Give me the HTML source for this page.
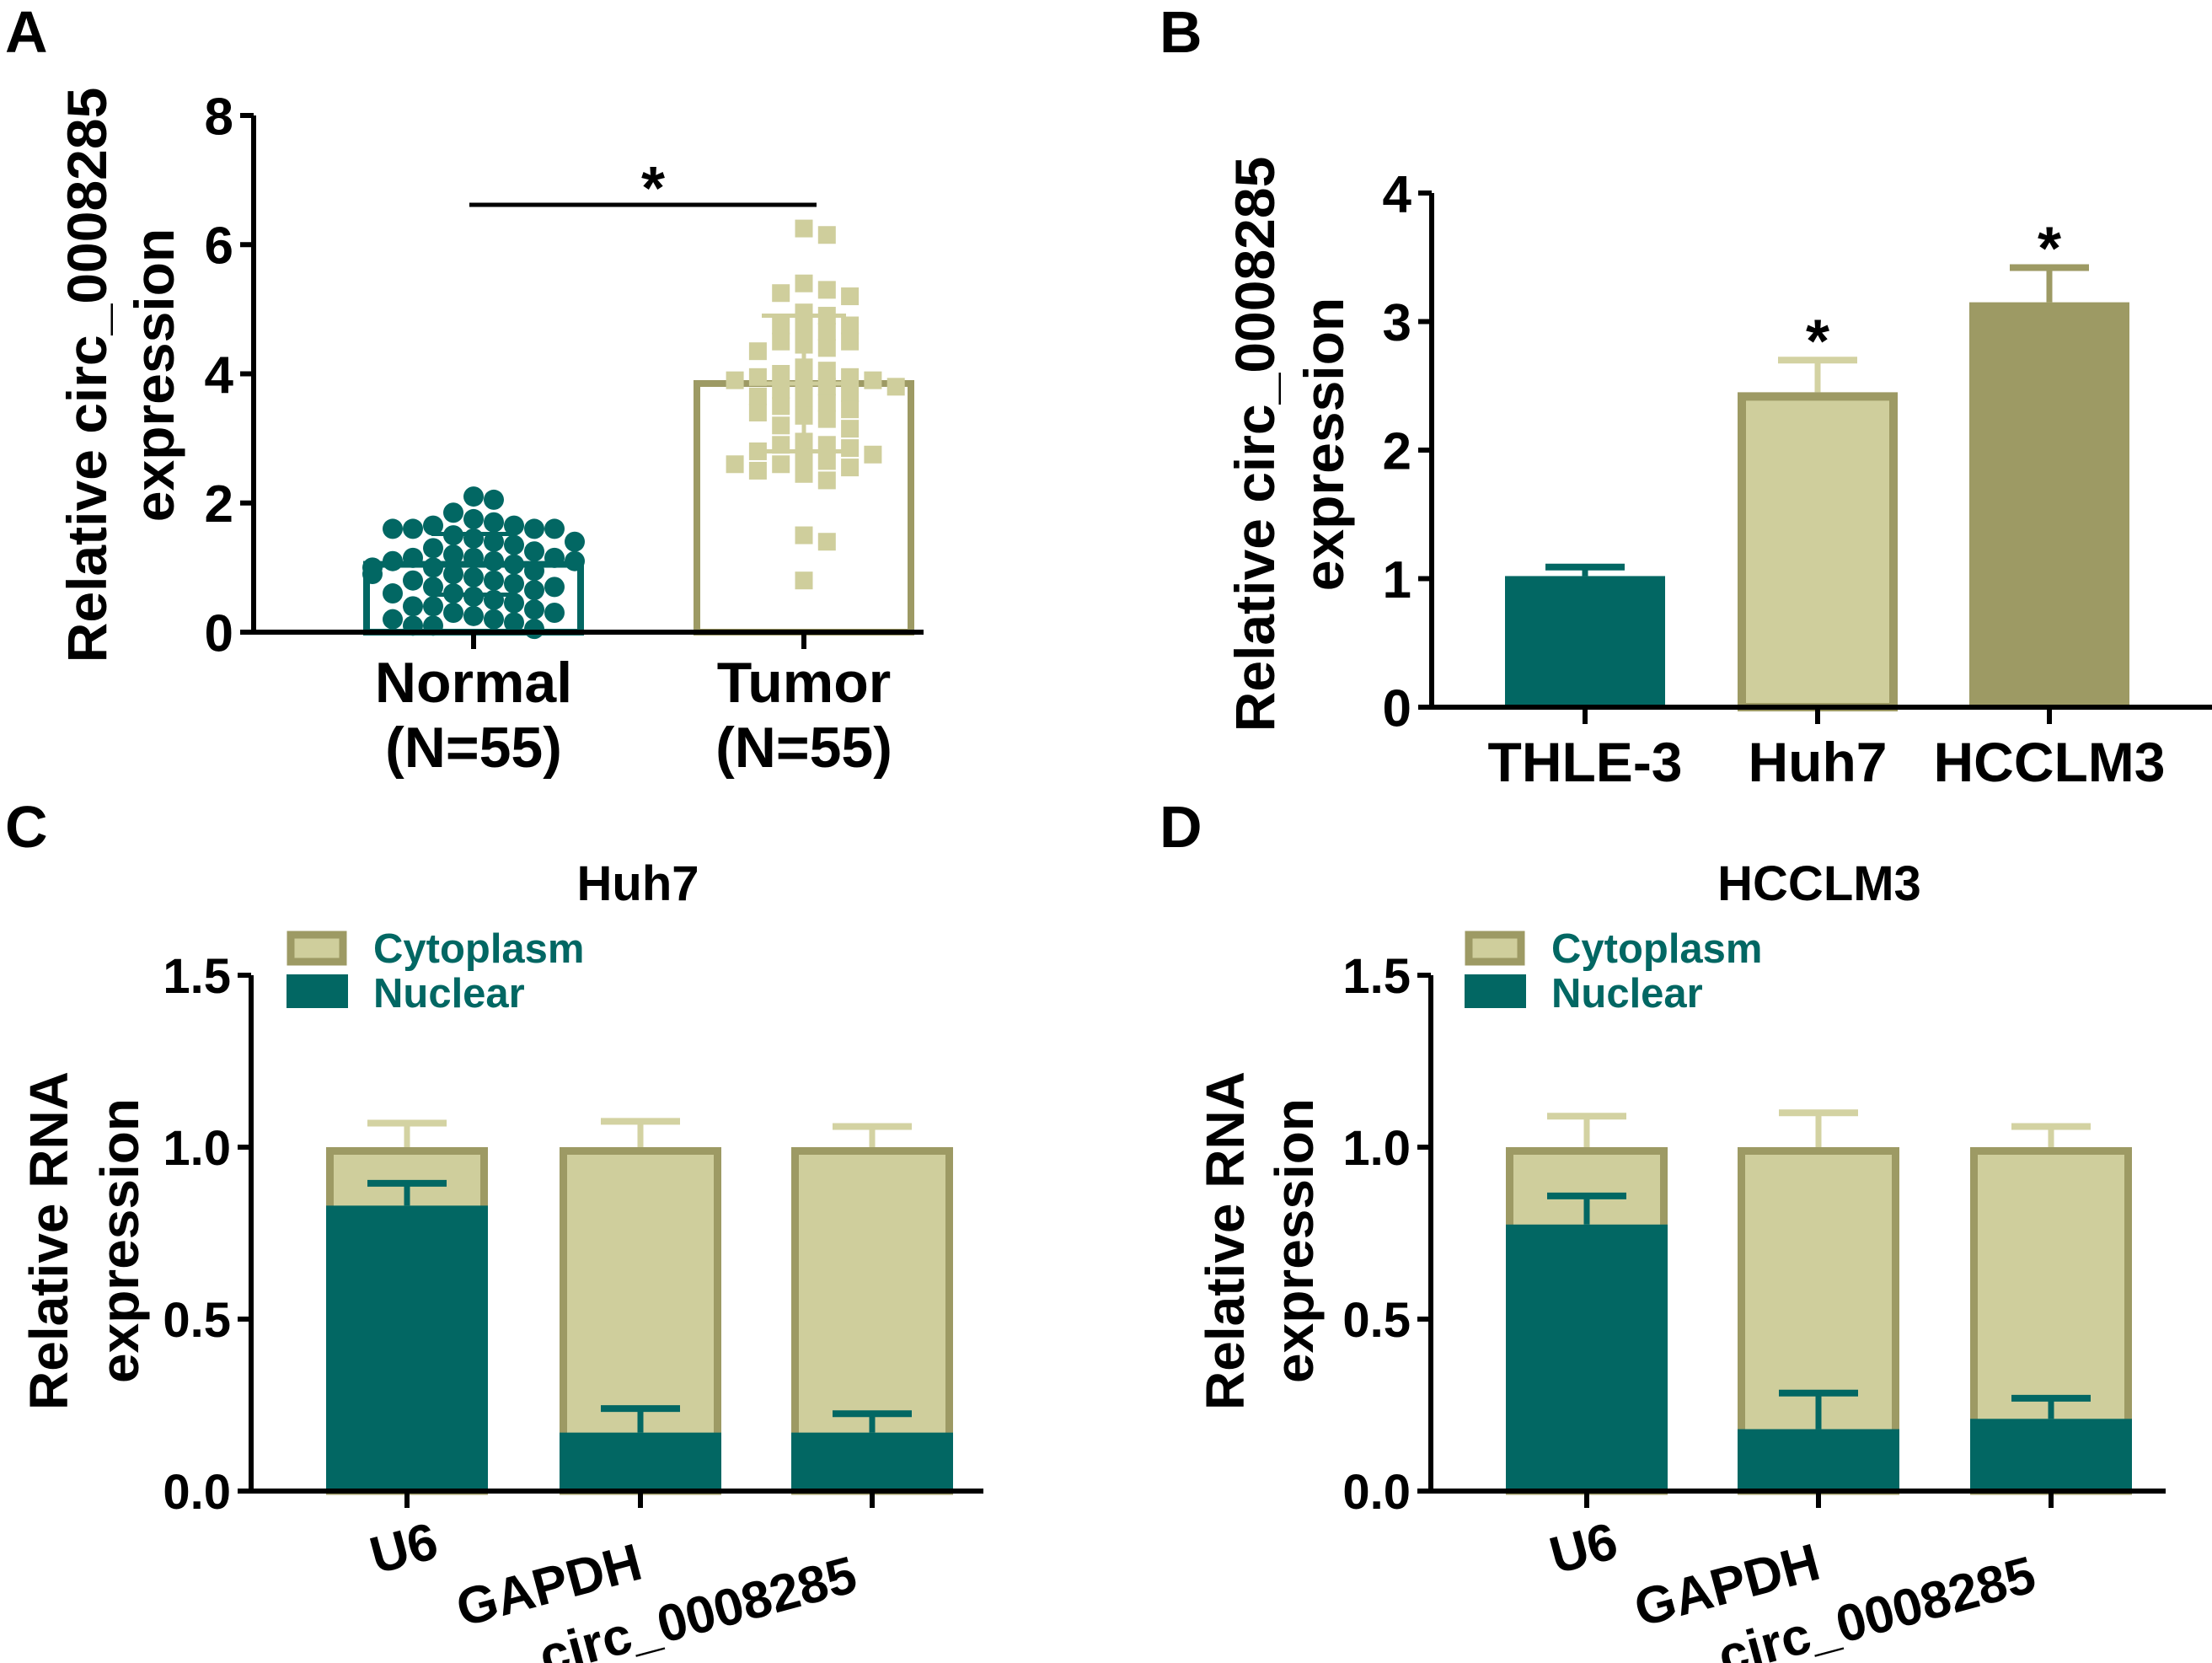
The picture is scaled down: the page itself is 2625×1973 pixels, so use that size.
<!DOCTYPE html>
<html><head><meta charset="utf-8">
<style>
html,body{margin:0;padding:0;background:#fff;}
svg{display:block;}
text{font-family:"Liberation Sans",Arial,sans-serif;font-weight:bold;}
.n{font-family:"Liberation Sans Narrow","Liberation Sans",Arial,sans-serif;}
</style></head>
<body>
<svg id="fig" width="2625" height="1973" viewBox="0 0 2625 1973" xmlns="http://www.w3.org/2000/svg">
<g>
<text x="6" y="62" font-size="70">A</text>
<text x="1376" y="62" font-size="70">B</text>
<text x="6" y="1005" font-size="70">C</text>
<text x="1376" y="1005" font-size="70">D</text>
</g>
<g id="pa"></g>
<g id="pb"></g>
<g id="pc"></g>
<g id="pd"></g>
</svg>
<script>
// ---------- DATA ----------
const aCategories = ["Normal", "Tumor"];
const aSubLabels = ["(N=55)", "(N=55)"];
const aMeans = [1.05, 3.85];
const aSD = [0.47, 1.05];
const aTicks = [0, 2, 4, 6, 8];
const normalValues = [2.1,2.05,1.85,1.75,1.7,1.65,1.65,1.6,1.6,1.6,1.6,1.5,1.45,1.4,1.4,1.35,1.3,1.25,1.2,1.15,1.15,1.15,1.1,1.1,1.1,1.05,1.0,1.0,0.95,0.9,0.9,0.85,0.8,0.8,0.75,0.7,0.7,0.65,0.6,0.6,0.55,0.5,0.45,0.4,0.4,0.35,0.3,0.3,0.25,0.2,0.2,0.15,0.1,0.1,0.05];
const tumorValues = [6.25,6.15,5.4,5.3,5.25,5.2,4.95,4.9,4.75,4.75,4.7,4.65,4.5,4.5,4.45,4.4,4.35,4.1,4.05,4.0,3.95,3.95,3.9,3.9,3.85,3.8,3.8,3.75,3.7,3.65,3.6,3.55,3.5,3.45,3.4,3.35,3.3,3.2,3.15,2.95,2.9,2.9,2.85,2.8,2.75,2.7,2.65,2.6,2.55,2.5,2.45,2.35,2.6,1.5,1.4,0.8];

const bCategories = ["THLE-3", "Huh7", "HCCLM3"];
const bValues = [1.02, 2.45, 3.15];
const bErrors = [0.07, 0.25, 0.27];
const bTicks = [0, 1, 2, 3, 4];

const cdCategories = ["U6", "GAPDH", "circ_0008285"];
const cdTicks = [0.0, 0.5, 1.0, 1.5];
const cNuclear = [0.83, 0.17, 0.17];
const cNuclearErr = [0.065, 0.07, 0.055];
const cTotal = [1.0, 1.0, 1.0];
const cTotalErr = [0.07, 0.075, 0.06];
const dNuclear = [0.775, 0.18, 0.21];
const dNuclearErr = [0.083, 0.105, 0.06];
const dTotal = [1.0, 1.0, 1.0];
const dTotalErr = [0.09, 0.10, 0.06];

// ---------- HELPERS ----------
const NS = "http://www.w3.org/2000/svg";
const TEAL = "#026763", LIGHT = "#cfce9c", OLIVE = "#9d9a64", ERRL = "#d3d2a2";
function mk(parent, tag, attrs, txt){
  const e = document.createElementNS(NS, tag);
  for (const k in attrs) e.setAttribute(k, attrs[k]);
  if (txt !== undefined) e.textContent = txt;
  parent.appendChild(e);
  return e;
}
function lin(d0,d1,r0,r1){ return v => r0 + (v-d0)*(r1-r0)/(d1-d0); }

function axes(g, x0, x1, yTop, yBot, ticks, yS, fmt, fs){
  let e = mk(g,'line',{x1:x0,y1:yTop,x2:x0,y2:yBot+3,stroke:'#000','stroke-width':6});
   
  e = mk(g,'line',{x1:x0-3,y1:yBot,x2:x1,y2:yBot,stroke:'#000','stroke-width':6});
   
  ticks.forEach(t=>{
    const y = yS(t);
    let l = mk(g,'line',{x1:x0-16,y1:y,x2:x0,y2:y,stroke:'#000','stroke-width':6});
     
    let tx = mk(g,'text',{x:x0-24,y:y+fs*0.36,'font-size':fs,'text-anchor':'end',class:'n'},fmt(t));
     
  });
}
function xTick(g,x,y){
  const l = mk(g,'line',{x1:x,y1:y,x2:x,y2:y+20,stroke:'#000','stroke-width':6});
   
}
function yTitle(g, cx1, cx2, cy, l1, l2, fs){
  let t = mk(g,'text',{x:0,y:0,'font-size':fs,'text-anchor':'middle',transform:`translate(${cx1},${cy}) rotate(-90)`},l1);
   
  t = mk(g,'text',{x:0,y:0,'font-size':fs,'text-anchor':'middle',transform:`translate(${cx2},${cy}) rotate(-90)`},l2);
   
}
function errBar(g, x, yFrom, yTo, color, half){
  let l = mk(g,'line',{x1:x,y1:yFrom,x2:x,y2:yTo,stroke:color,'stroke-width':7});
   
  l = mk(g,'line',{x1:x-half,y1:yTo,x2:x+half,y2:yTo,stroke:color,'stroke-width':8});
   
}

// ---------- PANEL A ----------
(function(){
  const g = document.getElementById('pa');
  const yS = lin(0,8,750,137);
  const centers = [562, 954], bw = 262;
  yTitle(g, 126, 206, 445, "Relative circ_0008285", "expression", 66);
  aMeans.forEach((m,i)=>{
    const col = i===0 ? TEAL : OLIVE;
    const r = mk(g,'rect',{x:centers[i]-bw/2+4,y:yS(m),width:bw-8,height:750-yS(m),fill:'none',stroke:col,'stroke-width':8});
     
  });
  function swarm(vals, cx, cls, d, half, step){
    const placed = [];
    vals.forEach(v=>{
      const y = yS(v);
      let best = cx;
      for (let k=0;k<60;k++){
        const off = (k===0?0:(k%2? 1:-1)*Math.ceil(k/2)*d*step);
        if (Math.abs(off) > half) break;
        const x = cx+off;
        if (placed.every(p=>Math.hypot(p[0]-x,p[1]-y) >= d*0.9)) { best = x; break; }
        best = x;
      }
      placed.push([best,y]);
      let e;
      if (cls==='c'){ e = mk(g,'circle',{cx:best,cy:y,r:d/2,fill:TEAL});  }
      else { e = mk(g,'rect',{x:best-d/2,y:y-d/2,width:d,height:d,fill:LIGHT});  }
      
    });
  }
  swarm(normalValues, centers[0], 'c', 24, 128, 1.0);
  swarm(tumorValues, centers[1], 's', 21, 128, 1.3);
  aMeans.forEach((m,i)=>{
    const x = centers[i];
    let e = mk(g,'line',{x1:x,y1:yS(m-aSD[i]),x2:x,y2:yS(m+aSD[i]),stroke:i===0?TEAL:LIGHT,'stroke-width':5});
     
    [m-aSD[i], m, m+aSD[i]].forEach(v=>{
      const l = mk(g,'line',{x1:x-50,y1:yS(v),x2:x+50,y2:yS(v),stroke:i===0?TEAL:LIGHT,'stroke-width':5});
       
    });
  });
  axes(g, 301, 1096, 137, 750, aTicks, yS, t=>String(t), 62);
  aCategories.forEach((c,i)=>{
    xTick(g, centers[i], 750);
    let t = mk(g,'text',{x:centers[i],y:833,'font-size':68,'text-anchor':'middle',class:'n'},c);
     
    t = mk(g,'text',{x:centers[i],y:910,'font-size':68,'text-anchor':'middle',class:'n'},aSubLabels[i]);
     
  });
  let s = mk(g,'line',{x1:557,y1:243,x2:969,y2:243,stroke:'#000','stroke-width':5});
   
  s = mk(g,'text',{x:775,y:248,'font-size':72,'text-anchor':'middle'},'*');
   
})();

// ---------- PANEL B ----------
(function(){
  const g = document.getElementById('pb');
  const yS = lin(0,4,839,229);
  const centers = [1881, 2157, 2432], bw = 190;
  yTitle(g, 1512, 1594, 527, "Relative circ_0008285", "expression", 66);
  bValues.forEach((v,i)=>{
    const x = centers[i];
    const top = yS(v);
    const errCol = i===0 ? TEAL : (i===1 ? ERRL : OLIVE);
    errBar(g, x, top, yS(v+bErrors[i]), errCol, 47);
    let r;
    if (i===1) r = mk(g,'rect',{x:x-bw/2+5,y:top+5,width:bw-10,height:839-top-5,fill:LIGHT,stroke:OLIVE,'stroke-width':10});
    else r = mk(g,'rect',{x:x-bw/2,y:top,width:bw,height:839-top,fill:i===0?TEAL:OLIVE});
     
    if (i>0){
      const s = mk(g,'text',{x:x,y:yS(v+bErrors[i])+2,'font-size':72,'text-anchor':'middle'},'*');
       
    }
  });
  axes(g, 1699, 2625, 229, 839, bTicks, yS, t=>String(t), 62);
  bCategories.forEach((c,i)=>{
    xTick(g, centers[i], 839);
    const t = mk(g,'text',{x:centers[i],y:927,'font-size':66,'text-anchor':'middle',class:'n'},c);
     
  });
})();

// ---------- PANELS C & D ----------
function stacked(id, title, titleX, axX, axEnd, centers, nuc, nucErr, tot, totErr, legX, titleXs){
  const g = document.getElementById(id);
  const yS = lin(0,1.5,1769,1157);
  const bw = 192;
  let t = mk(g,'text',{x:titleX,y:1068,'font-size':58,'text-anchor':'middle',class:'n'},title);
   
  yTitle(g, titleXs[0], titleXs[1], 1472, "Relative RNA", "expression", 64);
  let r = mk(g,'rect',{x:legX+5,y:1109,width:62,height:32,fill:LIGHT,stroke:OLIVE,'stroke-width':9});
   
  r = mk(g,'rect',{x:legX,y:1156,width:73,height:40,fill:TEAL});
   
  t = mk(g,'text',{x:legX+103,y:1142,'font-size':49,fill:TEAL,class:'n'},'Cytoplasm');
   
  t = mk(g,'text',{x:legX+103,y:1195,'font-size':49,fill:TEAL,class:'n'},'Nuclear');
   
  tot.forEach((v,i)=>{
    const x = centers[i];
    errBar(g, x, yS(v), yS(v+totErr[i]), ERRL, 47);
    let b = mk(g,'rect',{x:x-bw/2+4.5,y:yS(v)+4.5,width:bw-9,height:1769-yS(v)-4.5,fill:LIGHT,stroke:OLIVE,'stroke-width':9});
     
    b = mk(g,'rect',{x:x-bw/2,y:yS(nuc[i]),width:bw,height:1769-yS(nuc[i]),fill:TEAL});
     
    errBar(g, x, yS(nuc[i]), yS(nuc[i]+nucErr[i]), TEAL, 47);
  });
  axes(g, axX, axEnd, 1157, 1769, cdTicks, yS, t=>t.toFixed(1), 58);
  const offs = [[0,78],[-35,103],[-55,118]];
  cdCategories.forEach((c,i)=>{
    xTick(g, centers[i], 1769);
    const tx = centers[i]+offs[i][0], ty = 1769+offs[i][1];
    const l = mk(g,'text',{x:0,y:0,'font-size':62,'text-anchor':'end',class:'n',transform:`translate(${tx+40},${ty}) rotate(-15)`},c);
     
  });
}
stacked('pc','Huh7',757,298,1167,[483,760,1035],cNuclear,cNuclearErr,cTotal,cTotalErr,340,[80,164]);
stacked('pd','HCCLM3',2159,1698,2570,[1883,2158,2434],dNuclear,dNuclearErr,dTotal,dTotalErr,1738,[1476,1558]);
</script>
</body></html>
